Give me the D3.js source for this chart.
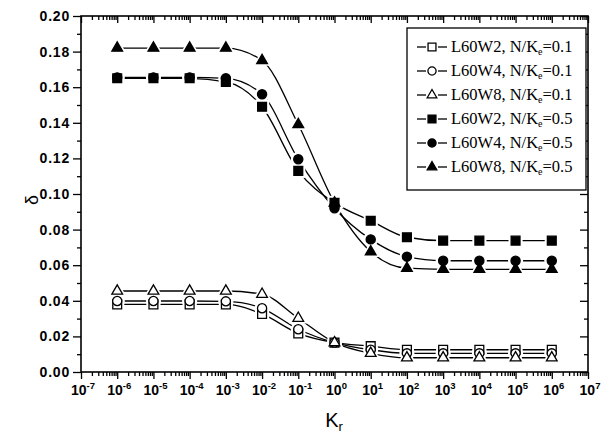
<!DOCTYPE html>
<html>
<head>
<meta charset="utf-8">
<script src="https://cdn.jsdelivr.net/npm/d3@7"></script>
<style>
  html, body { margin: 0; padding: 0; background: #fff; }
  svg { display: block; }
</style>
</head>
<body>
<svg id="chart" width="616" height="434"></svg>
<script>
// Stiffness ratio K_r (log scale) sampled one point per decade
const krValues = [1e-6, 1e-5, 1e-4, 1e-3, 1e-2, 1e-1, 1e0, 1e1, 1e2, 1e3, 1e4, 1e5, 1e6];

// δ for each specimen / axial load ratio
const l60w2Low  = [0.038, 0.038, 0.038, 0.038, 0.0326, 0.0217, 0.0165, 0.0145, 0.0125, 0.0125, 0.0125, 0.0125, 0.0125];
const l60w4Low  = [0.0399, 0.0399, 0.0399, 0.0397, 0.0358, 0.0240, 0.0165, 0.0125, 0.0105, 0.0105, 0.0105, 0.0105, 0.0105];
const l60w8Low  = [0.0455, 0.0455, 0.0455, 0.0455, 0.0437, 0.0302, 0.0165, 0.0105, 0.0080, 0.0080, 0.0080, 0.0080, 0.0080];
const l60w2High = [0.165, 0.165, 0.165, 0.163, 0.149, 0.113, 0.095, 0.085, 0.0757, 0.0738, 0.0738, 0.0738, 0.0738];
const l60w4High = [0.1655, 0.1655, 0.1655, 0.165, 0.156, 0.1195, 0.092, 0.0745, 0.0648, 0.0625, 0.0625, 0.0625, 0.0625];
const l60w8High = [0.182, 0.182, 0.182, 0.182, 0.175, 0.139, 0.095, 0.0676, 0.0583, 0.0577, 0.0577, 0.0577, 0.0577];

const seriesNames = ["L60W2", "L60W4", "L60W8", "L60W2", "L60W4", "L60W8"];
const loadRatios  = ["0.1", "0.1", "0.1", "0.5", "0.5", "0.5"];
const seriesData  = [l60w2Low, l60w4Low, l60w8Low, l60w2High, l60w4High, l60w8High];
const markerKinds = ["square", "circle", "triangle", "square", "circle", "triangle"];
const markerFilled = [false, false, false, true, true, true];

const xExponents = d3.range(-7, 8);
const yTicks = d3.range(0, 0.2001, 0.02);

const svg = d3.select("#chart");
const plot = { left: 81, right: 588, top: 16, bottom: 372 };

const x = d3.scaleLog().domain([1e-7, 1e7]).range([plot.left, plot.right]);
const y = d3.scaleLinear().domain([0, 0.2]).range([plot.bottom, plot.top]);

const symbolType = { square: d3.symbolSquare, circle: d3.symbolCircle, triangle: d3.symbolTriangle };
const symbolSize = { square: 78, circle: 66, triangle: 50 };
const haloSize   = { square: 200, circle: 180, triangle: 150 };

// ---- axes -------------------------------------------------------------
const majorX = xExponents.map(e => Math.pow(10, e));
const minorX = [];
xExponents.slice(0, -1).forEach(e => {
  for (let m = 2; m <= 9; m++) minorX.push(m * Math.pow(10, e));
});
const minorY = d3.range(0.01, 0.2, 0.02);

// bottom and top x ticks (both point downward)
const xAxisBottom = d3.axisBottom(x).tickValues(majorX).tickSize(7).tickFormat("");
const xAxisBottomMinor = d3.axisBottom(x).tickValues(minorX).tickSize(4).tickFormat("");
const xAxisTop = d3.axisTop(x).tickValues(majorX).tickSize(-7).tickFormat("");
const xAxisTopMinor = d3.axisTop(x).tickValues(minorX).tickSize(-4).tickFormat("");

// left ticks point outward, right ticks inward
const yAxisLeft = d3.axisLeft(y).tickValues(yTicks).tickSize(8).tickFormat("");
const yAxisLeftMinor = d3.axisLeft(y).tickValues(minorY).tickSize(4).tickFormat("");
const yAxisRight = d3.axisRight(y).tickValues(yTicks).tickSize(-8).tickFormat("");
const yAxisRightMinor = d3.axisRight(y).tickValues(minorY).tickSize(-4).tickFormat("");

function addAxis(gen, tx, ty) {
  const g = svg.append("g").attr("transform", `translate(${tx},${ty})`).call(gen);
  g.select(".domain").remove();
  g.selectAll(".tick line").attr("stroke", "#000").attr("stroke-width", 1.3);
  return g;
}
addAxis(xAxisBottom, 0, plot.bottom);
addAxis(xAxisBottomMinor, 0, plot.bottom);
addAxis(xAxisTop, 0, plot.top);
addAxis(xAxisTopMinor, 0, plot.top);
addAxis(yAxisLeft, plot.left, 0);
addAxis(yAxisLeftMinor, plot.left, 0);
addAxis(yAxisRight, plot.right, 0);
addAxis(yAxisRightMinor, plot.right, 0);

// frame
svg.append("rect")
  .attr("x", plot.left).attr("y", plot.top)
  .attr("width", plot.right - plot.left).attr("height", plot.bottom - plot.top)
  .attr("fill", "none").attr("stroke", "#000").attr("stroke-width", 1.6);

// y tick labels
svg.append("g").selectAll("text").data(yTicks).join("text")
  .attr("x", plot.left - 11)
  .attr("y", d => y(d) + 5)
  .attr("text-anchor", "end")
  .attr("font-family", "Liberation Sans, Arial, sans-serif")
  .attr("font-weight", "bold")
  .attr("font-size", 14)
  .attr("letter-spacing", 0.8)
  .text(d => d.toFixed(2));

// x tick labels 10^n
const xl = svg.append("g").selectAll("text").data(xExponents).join("text")
  .attr("x", d => x(Math.pow(10, d)) + 2)
  .attr("y", 395)
  .attr("text-anchor", "middle")
  .attr("font-family", "Liberation Sans, Arial, sans-serif")
  .attr("font-weight", "bold")
  .attr("font-size", 14);
xl.append("tspan").text("10");
xl.append("tspan").attr("dy", -6).attr("font-size", 9.5).text(d => String(d));

// axis titles
svg.append("text")
  .attr("transform", "translate(38,200) rotate(-90)")
  .attr("text-anchor", "middle")
  .attr("font-family", "Liberation Sans, Arial, sans-serif")
  .attr("font-size", 18)
  .text("δ");

const kt = svg.append("text")
  .attr("x", 334).attr("y", 427)
  .attr("text-anchor", "middle")
  .attr("font-family", "Liberation Sans, Arial, sans-serif")
  .attr("font-size", 20);
kt.append("tspan").text("K");
kt.append("tspan").attr("dy", 4).attr("font-size", 13).text("r");

// ---- series -----------------------------------------------------------
const line = d3.line()
  .x(d => x(d[0]))
  .y(d => y(d[1]))
  .curve(d3.curveMonotoneX);

const pointsOf = i => krValues.map((k, j) => [k, seriesData[i][j]]);

const linesG = svg.append("g");
seriesData.forEach((_, i) => {
  linesG.append("path")
    .attr("d", line(pointsOf(i)))
    .attr("fill", "none")
    .attr("stroke", "#000")
    .attr("stroke-width", 1.3);
});

// white halos leave a small gap between curve and marker
const haloG = svg.append("g");
seriesData.forEach((_, i) => {
  const kind = markerKinds[i];
  haloG.selectAll(null).data(pointsOf(i)).join("path")
    .attr("transform", d => `translate(${x(d[0])},${y(d[1])})`)
    .attr("d", d3.symbol().type(symbolType[kind]).size(haloSize[kind]))
    .attr("fill", "#fff");
});

const markG = svg.append("g");
seriesData.forEach((_, i) => {
  const kind = markerKinds[i];
  markG.selectAll(null).data(pointsOf(i)).join("path")
    .attr("transform", d => `translate(${x(d[0])},${y(d[1])})`)
    .attr("d", d3.symbol().type(symbolType[kind]).size(symbolSize[kind]))
    .attr("fill", markerFilled[i] ? "#000" : "#fff")
    .attr("stroke", "#000")
    .attr("stroke-width", 1.3);
});

// ---- legend -----------------------------------------------------------
const legend = { x: 407, y: 28, w: 179, h: 162, rowTop: 47, rowStep: 24 };
const lg = svg.append("g");
lg.append("rect")
  .attr("x", legend.x).attr("y", legend.y)
  .attr("width", legend.w).attr("height", legend.h)
  .attr("fill", "#fff").attr("stroke", "#000").attr("stroke-width", 1.3);

seriesNames.forEach((name, i) => {
  const cy = legend.rowTop + i * legend.rowStep;
  const kind = markerKinds[i];
  lg.append("line").attr("x1", 417).attr("x2", 426).attr("y1", cy).attr("y2", cy)
    .attr("stroke", "#000").attr("stroke-width", 1.3);
  lg.append("line").attr("x1", 438).attr("x2", 447).attr("y1", cy).attr("y2", cy)
    .attr("stroke", "#000").attr("stroke-width", 1.3);
  lg.append("path")
    .attr("transform", `translate(432,${cy})`)
    .attr("d", d3.symbol().type(symbolType[kind]).size(symbolSize[kind] * 0.8))
    .attr("fill", markerFilled[i] ? "#000" : "#fff")
    .attr("stroke", "#000").attr("stroke-width", 1.3);
  const t = lg.append("text")
    .attr("x", 451).attr("y", cy + 5)
    .attr("font-family", "Liberation Serif, 'Times New Roman', serif")
    .attr("font-size", 16.5);
  t.append("tspan").text(`${name}, N/K`);
  t.append("tspan").attr("dy", 3).attr("font-size", 10).text("e");
  t.append("tspan").attr("dy", -3).text(`=${loadRatios[i]}`);
});
</script>
</body>
</html>
